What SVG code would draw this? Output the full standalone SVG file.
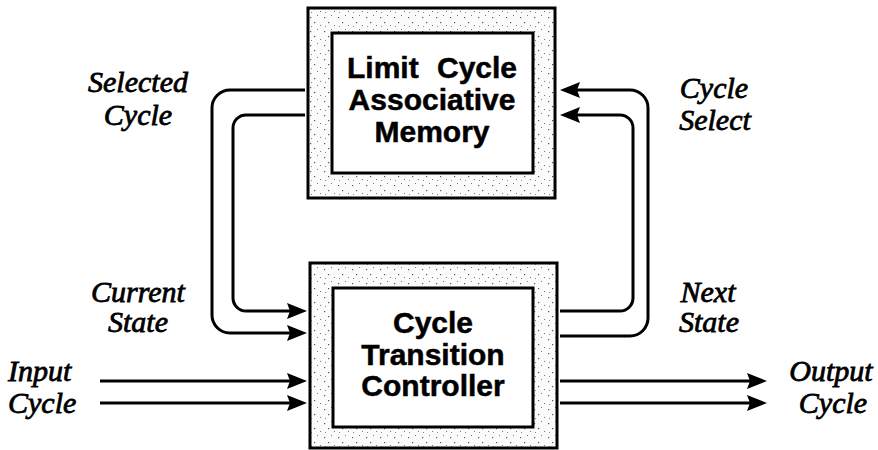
<svg xmlns="http://www.w3.org/2000/svg" width="878" height="450" viewBox="0 0 878 450">
<style>
.lbl{font-family:"Liberation Serif","Times New Roman",serif;font-style:italic;font-size:30px;fill:#000;stroke:#000;stroke-width:0.8px;text-anchor:middle}
.lbl-start{text-anchor:start}
.box-title{font-family:"Liberation Sans",Arial,sans-serif;font-weight:bold;font-size:30px;fill:#000;stroke:#000;stroke-width:0.5px;text-anchor:middle}
.outer{fill:url(#stipple);stroke:#000;stroke-width:3}
.inner{fill:#fff;stroke:#000;stroke-width:3}
.wire{fill:none;stroke:#000;stroke-width:3}
</style>
<defs>
<pattern id="stipple" patternUnits="userSpaceOnUse" width="14" height="14">
<rect width="14" height="14" fill="#fbfbfb"/>
<rect x="2" y="3" width="1.2" height="1.2" fill="#555"/>
<rect x="9" y="1" width="1" height="1" fill="#777"/>
<rect x="6" y="8" width="1.2" height="1.2" fill="#555"/>
<rect x="12" y="11" width="1" height="1" fill="#777"/>
<rect x="3" y="12" width="1" height="1" fill="#888"/>
</pattern>
<marker id="arrow" viewBox="0 0 20 16" refX="10" refY="8" markerWidth="20" markerHeight="16" markerUnits="userSpaceOnUse" orient="auto">
<path d="M0,0 L20,8 L0,16 L3,8 z" fill="#000"/>
</marker>
</defs>
<rect width="878" height="450" fill="#fff"/>

<g id="connectors">
<path class="wire" d="M305,90 H230 A18,18 0 0 0 212,108 V315 A18,18 0 0 0 230,333 H297" marker-end="url(#arrow)"/>
<path class="wire" d="M305,115 H246 A13,13 0 0 0 233,128 V298 A13,13 0 0 0 246,311 H297" marker-end="url(#arrow)"/>
<path class="wire" d="M560,336 H630 A18,18 0 0 0 648,318 V108 A18,18 0 0 0 630,90 H570" marker-end="url(#arrow)"/>
<path class="wire" d="M560,311 H620 A13,13 0 0 0 633,298 V128 A13,13 0 0 0 620,115 H570" marker-end="url(#arrow)"/>
<path class="wire" d="M100,381 H297" marker-end="url(#arrow)"/>
<path class="wire" d="M100,403 H297" marker-end="url(#arrow)"/>
<path class="wire" d="M560,381 H757" marker-end="url(#arrow)"/>
<path class="wire" d="M560,403 H757" marker-end="url(#arrow)"/>
</g>

<g id="memory">
<rect class="outer" x="308" y="8" width="247" height="190"/>
<rect class="inner" x="332" y="33" width="201" height="140"/>
<text class="box-title" x="432" y="78" word-spacing="10">Limit Cycle</text>
<text class="box-title" x="432" y="110">Associative</text>
<text class="box-title" x="432" y="142">Memory</text>
</g>

<g id="controller">
<rect class="outer" x="310" y="263" width="247" height="185"/>
<rect class="inner" x="333" y="288" width="200" height="139"/>
<text class="box-title" x="433" y="333">Cycle</text>
<text class="box-title" x="433" y="365">Transition</text>
<text class="box-title" x="433" y="396">Controller</text>
</g>

<g id="labels">
<text class="lbl" x="138" y="92">Selected</text>
<text class="lbl" x="138" y="125">Cycle</text>
<text class="lbl" x="714" y="98">Cycle</text>
<text class="lbl" x="715" y="130">Select</text>
<text class="lbl" x="138" y="302">Current</text>
<text class="lbl" x="138" y="332">State</text>
<text class="lbl" x="708" y="302">Next</text>
<text class="lbl" x="709" y="332">State</text>
<text class="lbl lbl-start" x="8" y="381">Input</text>
<text class="lbl lbl-start" x="8" y="413">Cycle</text>
<text class="lbl" x="831" y="381">Output</text>
<text class="lbl" x="833" y="413">Cycle</text>
</g>
</svg>
